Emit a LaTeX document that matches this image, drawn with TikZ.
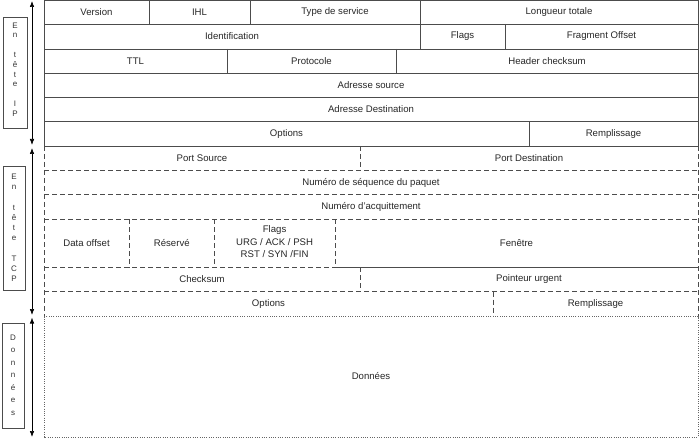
\documentclass[tikz,border=0pt]{standalone}
\usepackage{fontspec}
\setmainfont{Liberation Sans}
\usetikzlibrary{arrows.meta}
\begin{document}
\begin{tikzpicture}[x=1pt,y=-1pt,
 solidl/.style={draw=black!70,line width=0.8pt},
 dashl/.style={draw=black!70,line width=0.8pt,dash pattern=on 5pt off 3pt},
 dotl/.style={draw=black!60,line width=0.8pt,dash pattern=on 1pt off 1.3pt},
 lbl/.style={font=\fontsize{9.6}{12.5}\selectfont, text=black!85, inner sep=0pt, align=center},
 vl/.style={font=\fontsize{8}{9}\selectfont, text=black!80, inner sep=0pt},
 lbox/.style={draw=black!70, line width=0.8pt},
 dim/.style={draw=black, line width=0.6pt, {Latex[length=6pt,width=4.5pt]}-{Latex[length=6pt,width=4.5pt]}}]
\useasboundingbox (0,0) rectangle (700,438);

% ---------- IP header ----------
\draw[solidl] (44,0.5) rectangle (698,146);
\foreach \y in {24,49,73,97.5,121.5} \draw[solidl] (44,\y) -- (698,\y);
\draw[solidl] (149,0.5) -- (149,24);
\draw[solidl] (250,0.5) -- (250,24);
\draw[solidl] (420.5,0.5) -- (420.5,24);
\draw[solidl] (420.5,24) -- (420.5,49);
\draw[solidl] (505,24) -- (505,49);
\draw[solidl] (227,49) -- (227,73);
\draw[solidl] (396,49) -- (396,73);
\draw[solidl] (529,121.5) -- (529,146);

\node[lbl] (version) at (96.5,12) {Version};
\node[lbl] (ihl) at (199.5,12) {IHL};
\node[lbl] (tos) at (335,12) {Type de service};
\node[lbl] (lt) at (559,12) {Longueur totale};
\node[lbl] (ident) at (232,36.5) {Identification};
\node[lbl] (flagsip) at (462.5,36.5) {Flags};
\node[lbl] (frag) at (601.5,36.5) {Fragment Offset};
\node[lbl] (ttl) at (135.5,61) {TTL};
\node[lbl] (proto) at (311.5,61) {Protocole};
\node[lbl] (hcs) at (547,61) {Header checksum};
\node[lbl] (src) at (371,85.3) {Adresse source};
\node[lbl] (dst) at (371,109.5) {Adresse Destination};
\node[lbl] (optip) at (286.5,133.8) {Options};
\node[lbl] (rempip) at (613.5,133.8) {Remplissage};

% ---------- TCP header ----------
\draw[dashl] (44,146) -- (44,316.5);
\draw[dashl] (698,146) -- (698,316.5);
\foreach \y in {170.7,194.3,219,291.7} \draw[dashl] (44,\y) -- (698,\y);
\draw[dashl] (44,267.3) -- (335,267.3);
\draw[solidl] (335,267.3) -- (698,267.3);
\draw[dashl] (360,146) -- (360,170.7);
\draw[dashl] (129.3,219) -- (129.3,267.3);
\draw[dashl] (214.3,219) -- (214.3,267.3);
\draw[dashl] (335,219) -- (335,267.3);
\draw[dashl] (360,267.3) -- (360,291.7);
\draw[dashl] (493,291.7) -- (493,316.5);

\node[lbl] (psrc) at (202,158.3) {Port Source};
\node[lbl] (pdst) at (529,158.3) {Port Destination};
\node[lbl] (seq) at (371,182.5) {Numéro de séquence du paquet};
\node[lbl] (ack) at (371,206.6) {Numéro d'acquittement};
\node[lbl] (doff) at (86.6,243) {Data offset};
\node[lbl] (res) at (171.8,243) {Réservé};
\node[lbl] (flagstcp) at (274.6,241.8) {Flags\\URG / ACK / PSH\\RST / SYN /FIN};
\node[lbl] (win) at (516.5,243) {Fenêtre};
\node[lbl] (cks) at (202,279.5) {Checksum};
\node[lbl] (urg) at (529,279.5) {Pointeur urgent};
\node[lbl] (opttcp) at (268.5,304) {Options};
\node[lbl] (remptcp) at (595.5,304) {Remplissage};

% ---------- Données ----------
\draw[dotl] (44,316.5) rectangle (698,437);
\node[lbl] (data) at (371,376.5) {Données};

% ---------- left labels ----------
\draw[lbox] (3,17.7) rectangle (27,128);
\foreach \l/\y in {E/26,n/35.8,t/55.3,ê/65.1,t/74.9,e/84.7,I/104.2,P/114}
  \node[vl] at (15,\y) {\l};
\draw[lbox] (3,166.7) rectangle (25,290.7);
\foreach \l/\y in {E/177,n/187.2,t/207.6,ê/217.8,t/228,e/238.2,T/258.6,C/268.8,P/279}
  \node[vl] at (14,\y) {\l};
\draw[lbox] (2,323.3) rectangle (24,428);
\foreach \l/\y in {D/338,o/350.5,n/363,n/375.5,é/388,e/400.5,s/413}
  \node[vl] at (13,\y) {\l};

% ---------- dimension arrows ----------
\coordinate (ipt) at (32,1);
\coordinate (ipb) at (32,145);
\coordinate (tcpt) at (32,148);
\coordinate (tcpb) at (32,315);
\coordinate (dt) at (32,317.5);
\coordinate (db) at (32,437);
\draw[dim] (ipt) -- (ipb);
\draw[dim] (tcpt) -- (tcpb);
\draw[dim] (dt) -- (db);
\end{tikzpicture}
\end{document}
